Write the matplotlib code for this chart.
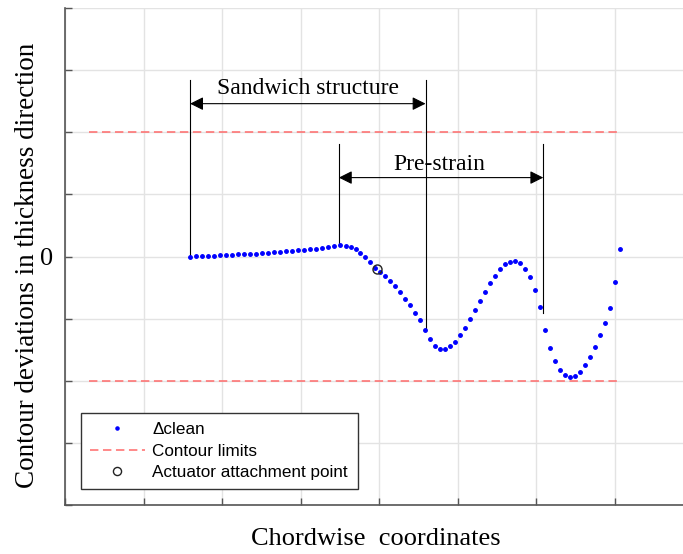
import numpy as np
import matplotlib
matplotlib.use("Agg")
import matplotlib.pyplot as plt

# chordwise position (grid units) and contour deviation (grid units)
chord_x = [1.589, 1.665, 1.742, 1.818, 1.894, 1.971, 2.047, 2.124, 2.200, 2.276,
           2.353, 2.429, 2.506, 2.582, 2.659, 2.735, 2.811, 2.888, 2.964, 3.041,
           3.117, 3.194, 3.270, 3.346, 3.423, 3.499,
           3.572, 3.636, 3.699, 3.758, 3.822, 3.885, 3.945, 4.009, 4.073, 4.136,
           4.200, 4.264, 4.327, 4.391, 4.455, 4.518, 4.586, 4.650, 4.713, 4.777,
           4.841, 4.904, 4.968, 5.032, 5.096, 5.159, 5.223, 5.287, 5.350, 5.414,
           5.478, 5.541, 5.605, 5.669, 5.732, 5.796, 5.860, 5.924, 5.987, 6.051,
           6.115, 6.178, 6.242, 6.306, 6.369, 6.433, 6.497, 6.561, 6.624, 6.688,
           6.752, 6.815, 6.879, 6.943, 7.006, 7.070]
dev_y = [0.000, 0.003, 0.006, 0.010, 0.015, 0.019, 0.024, 0.029, 0.034, 0.039,
         0.044, 0.048, 0.055, 0.061, 0.068, 0.074, 0.082, 0.090, 0.098, 0.106,
         0.116, 0.126, 0.137, 0.148, 0.163, 0.181,
         0.174, 0.148, 0.116, 0.061, -0.003, -0.084, -0.190, -0.250, -0.310, -0.390,
         -0.476, -0.573, -0.681, -0.787, -0.911, -1.029, -1.185, -1.335, -1.439, -1.487,
         -1.487, -1.444, -1.374, -1.271, -1.148, -1.013, -0.863, -0.713, -0.568, -0.432,
         -0.310, -0.206, -0.126, -0.084, -0.077, -0.110, -0.197, -0.335, -0.540, -0.819,
         -1.181, -1.476, -1.681, -1.826, -1.906, -1.939, -1.916, -1.852, -1.750, -1.616,
         -1.460, -1.271, -1.068, -0.831, -0.416, 0.121]

limit_x = [0.30, 7.07]
limit_upper = 2.0
limit_lower = -2.0

actuator_x = 3.967
actuator_y = -0.206

# brackets: (left, right), top of leader lines, arrow height, leader ends
sandwich_span = (1.59, 4.59)
sandwich_top = 2.835
sandwich_arrow_y = 2.46
sandwich_ends = (0.0, -1.185)
prestrain_span = (3.485, 6.09)
prestrain_top = 1.81
prestrain_arrow_y = 1.27
prestrain_ends = (0.18, -0.906)

serif = ["Liberation Serif", "DejaVu Serif"]
sans = ["Liberation Sans", "DejaVu Sans"]

fig = plt.figure(figsize=(6.83, 5.54), dpi=100)
ax = fig.add_axes([0.0956, 0.0884, 0.9044, 0.8972])

ax.plot(limit_x, [limit_upper, limit_upper], color="#ff6a6a", lw=1.1,
        dashes=(5.5, 3), label="Contour limits")
ax.plot(limit_x, [limit_lower, limit_lower], color="#ff6a6a", lw=1.1,
        dashes=(5.5, 3))

# bracket leader lines
for xs, ends, top in [(sandwich_span, sandwich_ends, sandwich_top),
                      (prestrain_span, prestrain_ends, prestrain_top)]:
    for xv, yb in zip(xs, ends):
        ax.plot([xv, xv], [yb, top], color="black", lw=0.8)

ax.annotate("", xy=(sandwich_span[0], sandwich_arrow_y),
            xytext=(sandwich_span[1], sandwich_arrow_y),
            arrowprops=dict(arrowstyle="<|-|>", color="black", lw=0.8,
                            mutation_scale=20, shrinkA=0, shrinkB=0))
ax.annotate("", xy=(prestrain_span[0], prestrain_arrow_y),
            xytext=(prestrain_span[1], prestrain_arrow_y),
            arrowprops=dict(arrowstyle="<|-|>", color="black", lw=0.8,
                            mutation_scale=20, shrinkA=0, shrinkB=0))
ax.text(3.09, 2.62, "Sandwich structure", family=serif, fontsize=17,
        ha="center", va="baseline")
ax.text(4.77, 1.40, "Pre-strain", family=serif, fontsize=17,
        ha="center", va="baseline")

ax.plot(chord_x, dev_y, ".", color="#0000ff", markersize=5,
        label="\u0394clean", zorder=3)
ax.plot(actuator_x, actuator_y, "o", mfc="none", mec="#222222", mew=1.0,
        markersize=6.5, label="Actuator attachment point", zorder=4)

ax.set_xlim(0, 7.87)
ax.set_ylim(-4, 4)
ax.set_xticks(np.arange(0, 8))
ax.set_xticklabels([])
ax.set_yticks(np.arange(-4, 5))
ax.set_yticklabels(["" if v != 0 else "0" for v in range(-4, 5)],
                   family=serif, fontsize=19)
ax.tick_params(direction="in", length=5, color="#555555", width=1, pad=9)
ax.grid(True, color="#e3e3e3", lw=1)
ax.set_axisbelow(True)
for s in ["top", "right"]:
    ax.spines[s].set_visible(False)
for s in ["left", "bottom"]:
    ax.spines[s].set_color("#555555")
    ax.spines[s].set_linewidth(1.2)

ax.set_xlabel("Chordwise  coordinates", family=serif, fontsize=19)
ax.set_ylabel("Contour deviations in thickness direction", family=serif,
              fontsize=19.5)
ax.xaxis.set_label_coords(0.503, -0.046)
ax.yaxis.set_label_coords(-0.041, 0.483)

h, l = ax.get_legend_handles_labels()
order = [l.index("\u0394clean"), l.index("Contour limits"),
         l.index("Actuator attachment point")]
leg = ax.legend([h[i] for i in order], [l[i] for i in order],
                loc="lower left", bbox_to_anchor=(0.025, 0.032),
                borderaxespad=0, fancybox=False, framealpha=1,
                edgecolor="#333333", prop={"family": sans, "size": 12.3},
                handlelength=3.2, handletextpad=0.45, labelspacing=0.36,
                borderpad=0.55, markerscale=0.9)
leg.get_frame().set_linewidth(1.0)

fig.savefig("out.png", dpi=100)
